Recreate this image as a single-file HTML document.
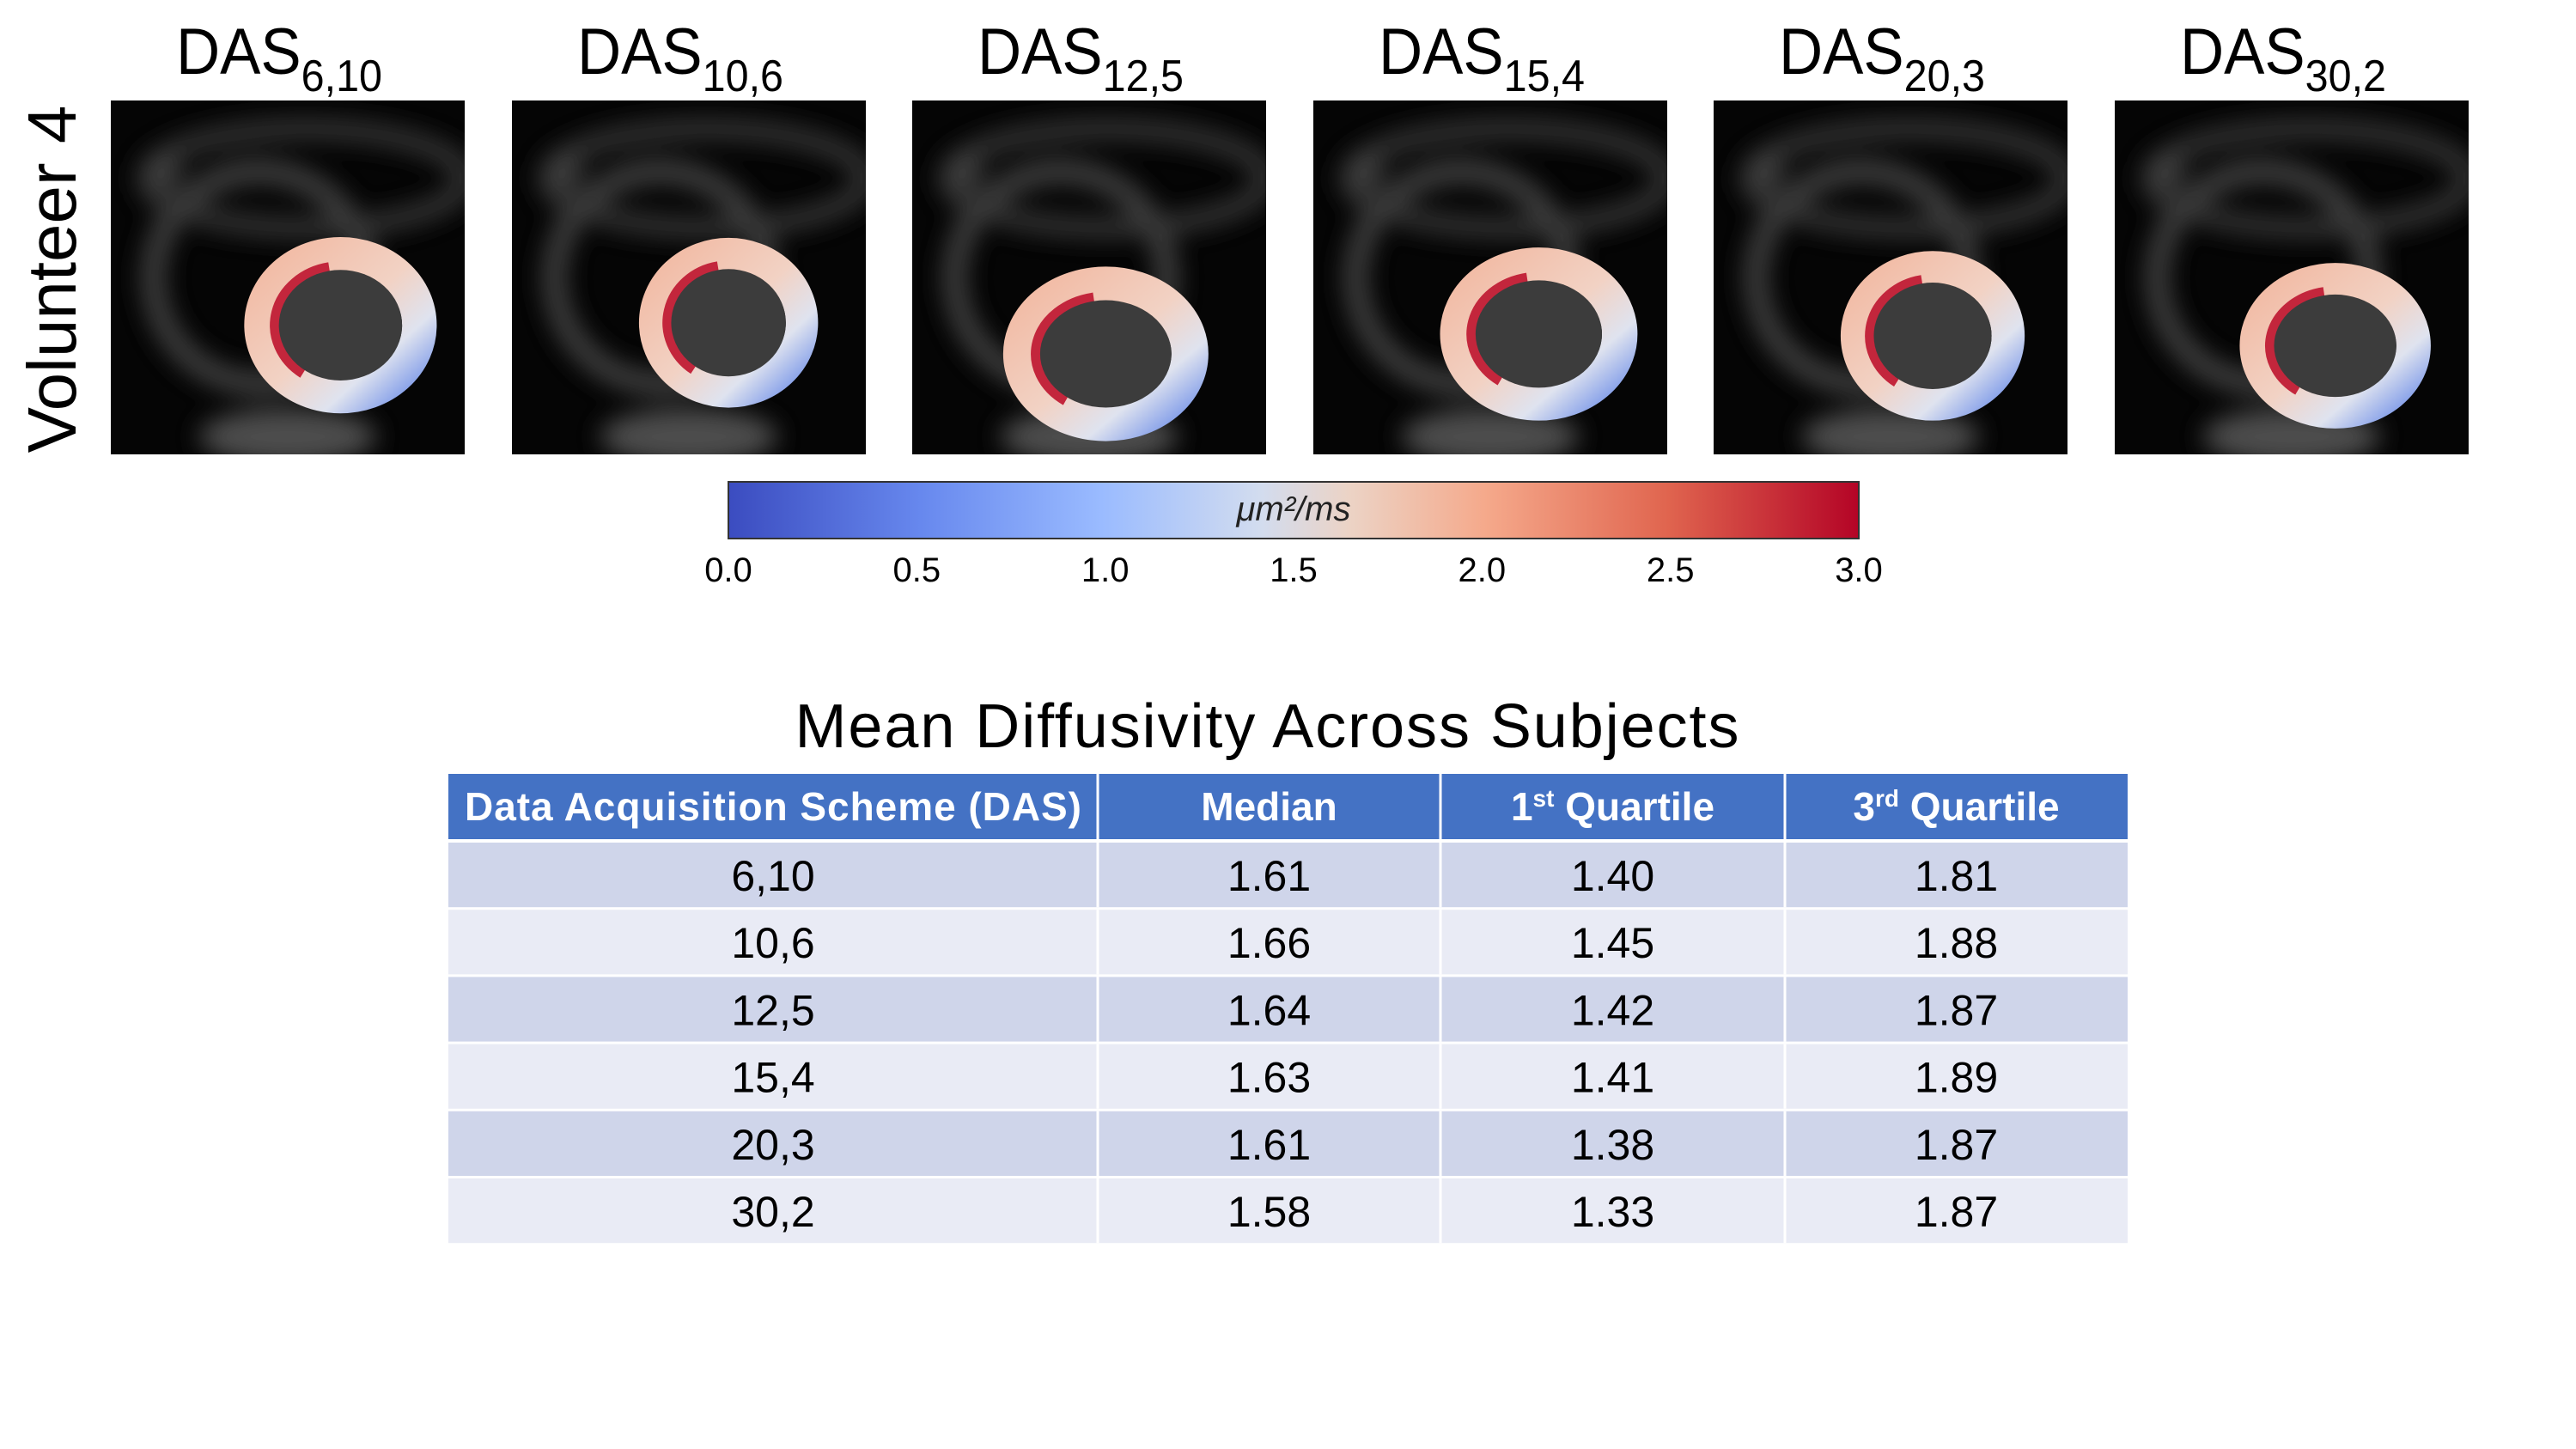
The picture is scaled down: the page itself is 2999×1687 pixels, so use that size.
<!DOCTYPE html>
<html><head><meta charset="utf-8"><style>
html,body{margin:0;padding:0;background:#fff;}
svg{display:block;font-family:"Liberation Sans Narrow","Liberation Sans",sans-serif;}
</style></head><body>
<svg id="fig" width="2999" height="1687" viewBox="0 0 2999 1687" xmlns="http://www.w3.org/2000/svg">
<defs>
<linearGradient id="cmap" x1="0" x2="1" y1="0" y2="0">
<stop offset="0" stop-color="#3b4cc0"/><stop offset="0.17" stop-color="#6788ee"/>
<stop offset="0.33" stop-color="#9abbff"/><stop offset="0.47" stop-color="#d2dcef"/>
<stop offset="0.55" stop-color="#ecd3c5"/><stop offset="0.67" stop-color="#f5a98b"/>
<stop offset="0.83" stop-color="#e0654f"/><stop offset="1" stop-color="#b40426"/>
</linearGradient>
<linearGradient id="ringg" x1="0" y1="0" x2="1" y2="1">
<stop offset="0" stop-color="#f2b9a2"/><stop offset="0.5" stop-color="#f2d2c4"/>
<stop offset="0.75" stop-color="#dfe3ef"/><stop offset="1" stop-color="#6f8fe8"/>
</linearGradient>
<filter id="blur"><feGaussianBlur stdDeviation="14"/></filter>
<clipPath id="pclip"><rect x="0" y="0" width="412" height="412"/></clipPath>
</defs>
<g id="panels"></g>
<text transform="translate(88,325) rotate(-90)" text-anchor="middle" font-family="Liberation Sans, sans-serif" font-size="80" fill="#000">Volunteer 4</text>
<g id="colorbar">
<rect x="848" y="561" width="1316" height="66" fill="url(#cmap)" stroke="#333" stroke-width="2"/>
<text x="1506" y="606" text-anchor="middle" font-size="40" font-style="italic" fill="#222">μm²/ms</text>
</g>
<g id="cbticks"></g>
<text x="1475" y="870" text-anchor="middle" font-size="72" fill="#000" textLength="1099">Mean Diffusivity Across Subjects</text>
<g id="table"></g>
</svg>
<script>
const NS="http://www.w3.org/2000/svg";
const dasLabels=["6,10","10,6","12,5","15,4","20,3","30,2"];
const medians=["1.61","1.66","1.64","1.63","1.61","1.58"];
const q1=["1.40","1.45","1.42","1.41","1.38","1.33"];
const q3=["1.81","1.88","1.87","1.89","1.87","1.87"];
const cbTicks=["0.0","0.5","1.0","1.5","2.0","2.5","3.0"];
const ringCx=[0.649,0.612,0.547,0.637,0.619,0.623];
const ringCy=[0.635,0.628,0.716,0.66,0.665,0.693];
const ringRx=[0.272,0.253,0.29,0.279,0.26,0.27];
const ringRy=[0.244,0.237,0.237,0.237,0.235,0.226];
function mk(t,a,p){const e=document.createElementNS(NS,t);for(const k in a)e.setAttribute(k,a[k]);p.appendChild(e);return e;}
const panels=document.getElementById('panels');
const px0=129, pdx=466.5, py=117, ps=412;
dasLabels.forEach((lab,i)=>{
  const x=Math.round(px0+i*pdx);
  const g=mk('g',{transform:`translate(${x},${py})`},panels);
  
  
  const gi=mk('g',{'clip-path':'url(#pclip)'},g);
  mk('rect',{x:0,y:0,width:ps,height:ps,fill:'#050505'},gi);
  const bg=mk('g',{filter:'url(#blur)',opacity:0.9},gi);
  mk('ellipse',{cx:ps*0.42,cy:ps*0.5,rx:ps*0.3,ry:ps*0.3,fill:'none',stroke:'#4a4a4a',"stroke-width":26},bg);
  mk('ellipse',{cx:ps*0.55,cy:ps*0.22,rx:ps*0.45,ry:ps*0.14,fill:'none',stroke:'#3d3d3d',"stroke-width":22},bg);
  mk('ellipse',{cx:ps*0.5,cy:ps*0.95,rx:ps*0.25,ry:ps*0.08,fill:'#555'},bg);
  mk('ellipse',{cx:ps*0.15,cy:ps*0.2,rx:ps*0.05,ry:ps*0.05,fill:'#444'},bg);
  const cx=ps*ringCx[i],cy=ps*ringCy[i],rx=ps*ringRx[i],ry=ps*ringRy[i];
  const ring=mk('ellipse',{cx:cx,cy:cy,rx:rx*0.82,ry:ry*0.82,fill:'none',stroke:'url(#ringg)','stroke-width':rx*0.36},gi);
  
  
  const ir=0.68, a1=100*Math.PI/180, a2=235*Math.PI/180;
  const sx=cx+rx*ir*Math.cos(a1), sy=cy-ry*ir*Math.sin(a1), ex=cx+rx*ir*Math.cos(a2), ey=cy-ry*ir*Math.sin(a2);
  mk('path',{d:`M${sx},${sy} A${rx*ir},${ry*ir} 0 0 0 ${ex},${ey}`,fill:'none',stroke:'#c3263c','stroke-width':12},gi);
  mk('ellipse',{cx:cx,cy:cy,rx:rx*0.64,ry:ry*0.64,fill:'#3c3c3c'},gi);
  const t=mk('text',{x:ps/2-10,y:-31,'text-anchor':'middle','font-size':76,'font-family':'Liberation Sans, sans-serif',fill:'#000',textLength:240,lengthAdjust:'spacingAndGlyphs'},g);
  
  
  t.textContent='DAS';
  mk('tspan',{dy:20,'font-size':52},t).textContent=lab;
});
const cbt=document.getElementById('cbticks');
cbTicks.forEach((v,i)=>{
  const t=mk('text',{x:848+i*1316/6,y:677,'text-anchor':'middle','font-size':40,fill:'#000'},cbt);
  
  
  t.textContent=v;
});
const tb=document.getElementById('table');
const colX=[522,1278,1677,2078,2477];
const hdrY=901,hdrH=76,row0=981,rowH=78.2;
mk('rect',{x:522,y:hdrY,width:1955,height:hdrH,fill:'#4472c4'},tb);
const hdrs=["Data Acquisition Scheme (DAS)","Median","1st Quartile","3rd Quartile"];
hdrs.forEach((h,c)=>{
  const cx=(colX[c]+colX[c+1])/2;
  const t=mk('text',{x:cx,y:hdrY+54,'text-anchor':'middle','font-size':46,'font-weight':'bold',fill:'#fff'},tb);
  
  
  if(c===2||c===3){t.textContent=h[0];mk('tspan',{dy:-16,'font-size':28},t).textContent=(c===2?'st':'rd');mk('tspan',{dy:16},t).textContent=' Quartile';}
  else t.textContent=h;
  if(c===0)t.setAttribute('textLength',718);
  if(c>0)mk('line',{x1:colX[c],x2:colX[c],y1:hdrY,y2:hdrY+hdrH,stroke:'#fff','stroke-width':3},tb);
});
dasLabels.forEach((d,r)=>{
  const y=row0+r*rowH;
  const bg=mk('rect',{x:522,y:y,width:1955,height:rowH-3,fill:r%2?'#e9ebf5':'#cfd5ea'},tb);
  
  
  [d,medians[r],q1[r],q3[r]].forEach((v,c)=>{
    const t=mk('text',{x:(colX[c]+colX[c+1])/2,y:y+56,'text-anchor':'middle','font-size':50,fill:'#000'},tb);
    
    
    t.textContent=v;
  });
  for(let c=1;c<4;c++)mk('line',{x1:colX[c],x2:colX[c],y1:y,y2:y+rowH-3,stroke:'#fff','stroke-width':3},tb);
});
</script>
</body></html>
